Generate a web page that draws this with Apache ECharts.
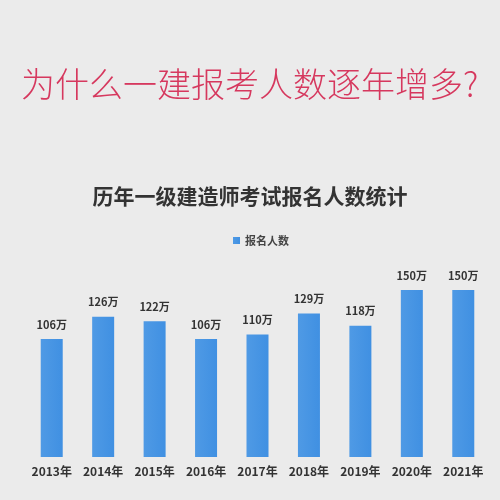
<!DOCTYPE html>
<html><head><meta charset="utf-8">
<script src="https://cdn.jsdelivr.net/npm/echarts@6/dist/echarts.min.js"></script>
<style>html,body{margin:0;padding:0;background:#ebebeb;}#c{width:500px;height:500px;}</style>
</head><body><div id="c"></div>
<script>
const categories = ['2013年','2014年','2015年','2016年','2017年','2018年','2019年','2020年','2021年'];
const values = [106,126,122,106,110,129,118,150,150];
const seriesName = '报名人数';
const mainTitle = '为什么一建报考人数逐年增多?';
const subTitle = '历年一级建造师考试报名人数统计';
const font = '"Noto Sans CJK SC", "Noto Sans", sans-serif';
const chart = echarts.init(document.getElementById('c'));
chart.setOption({
  backgroundColor: '#ebebeb',
  title: [
    {text: mainTitle, left: 16, top: 62, textStyle: {color: '#d6385e', fontSize: 34, fontWeight: 300, fontFamily: font}},
    {text: subTitle, left: 'center', top: 181, textStyle: {color: '#333', fontSize: 21, fontWeight: 'bold', fontFamily: font}}
  ],
  legend: {top: 230, left: 228, itemWidth: 7, itemHeight: 7, itemGap: 7, icon: 'rect',
    textStyle: {color: '#444', fontSize: 11, fontWeight: 'bold', fontFamily: font}},
  grid: {left: 26, right: 11, top: 290, bottom: 43},
  xAxis: {type: 'category', data: categories, axisLine: {show: false}, axisTick: {show: false},
    axisLabel: {interval: 0, color: '#333', fontSize: 12, fontWeight: 'bold', margin: 8, fontFamily: font}},
  yAxis: {type: 'value', min: 0, max: 150, show: false, splitLine: {show: false}},
  series: [{name: seriesName, type: 'bar', data: values, barWidth: 22,
    itemStyle: {color: new echarts.graphic.LinearGradient(0,0,1,0,[{offset:0,color:'#4f9ae5'},{offset:1,color:'#4090e2'}])},
    label: {show: true, position: 'top', distance: 9, formatter: '{c}万', color: '#333', fontSize: 11, fontWeight: 'bold', fontFamily: font}}]
});
</script></body></html>
